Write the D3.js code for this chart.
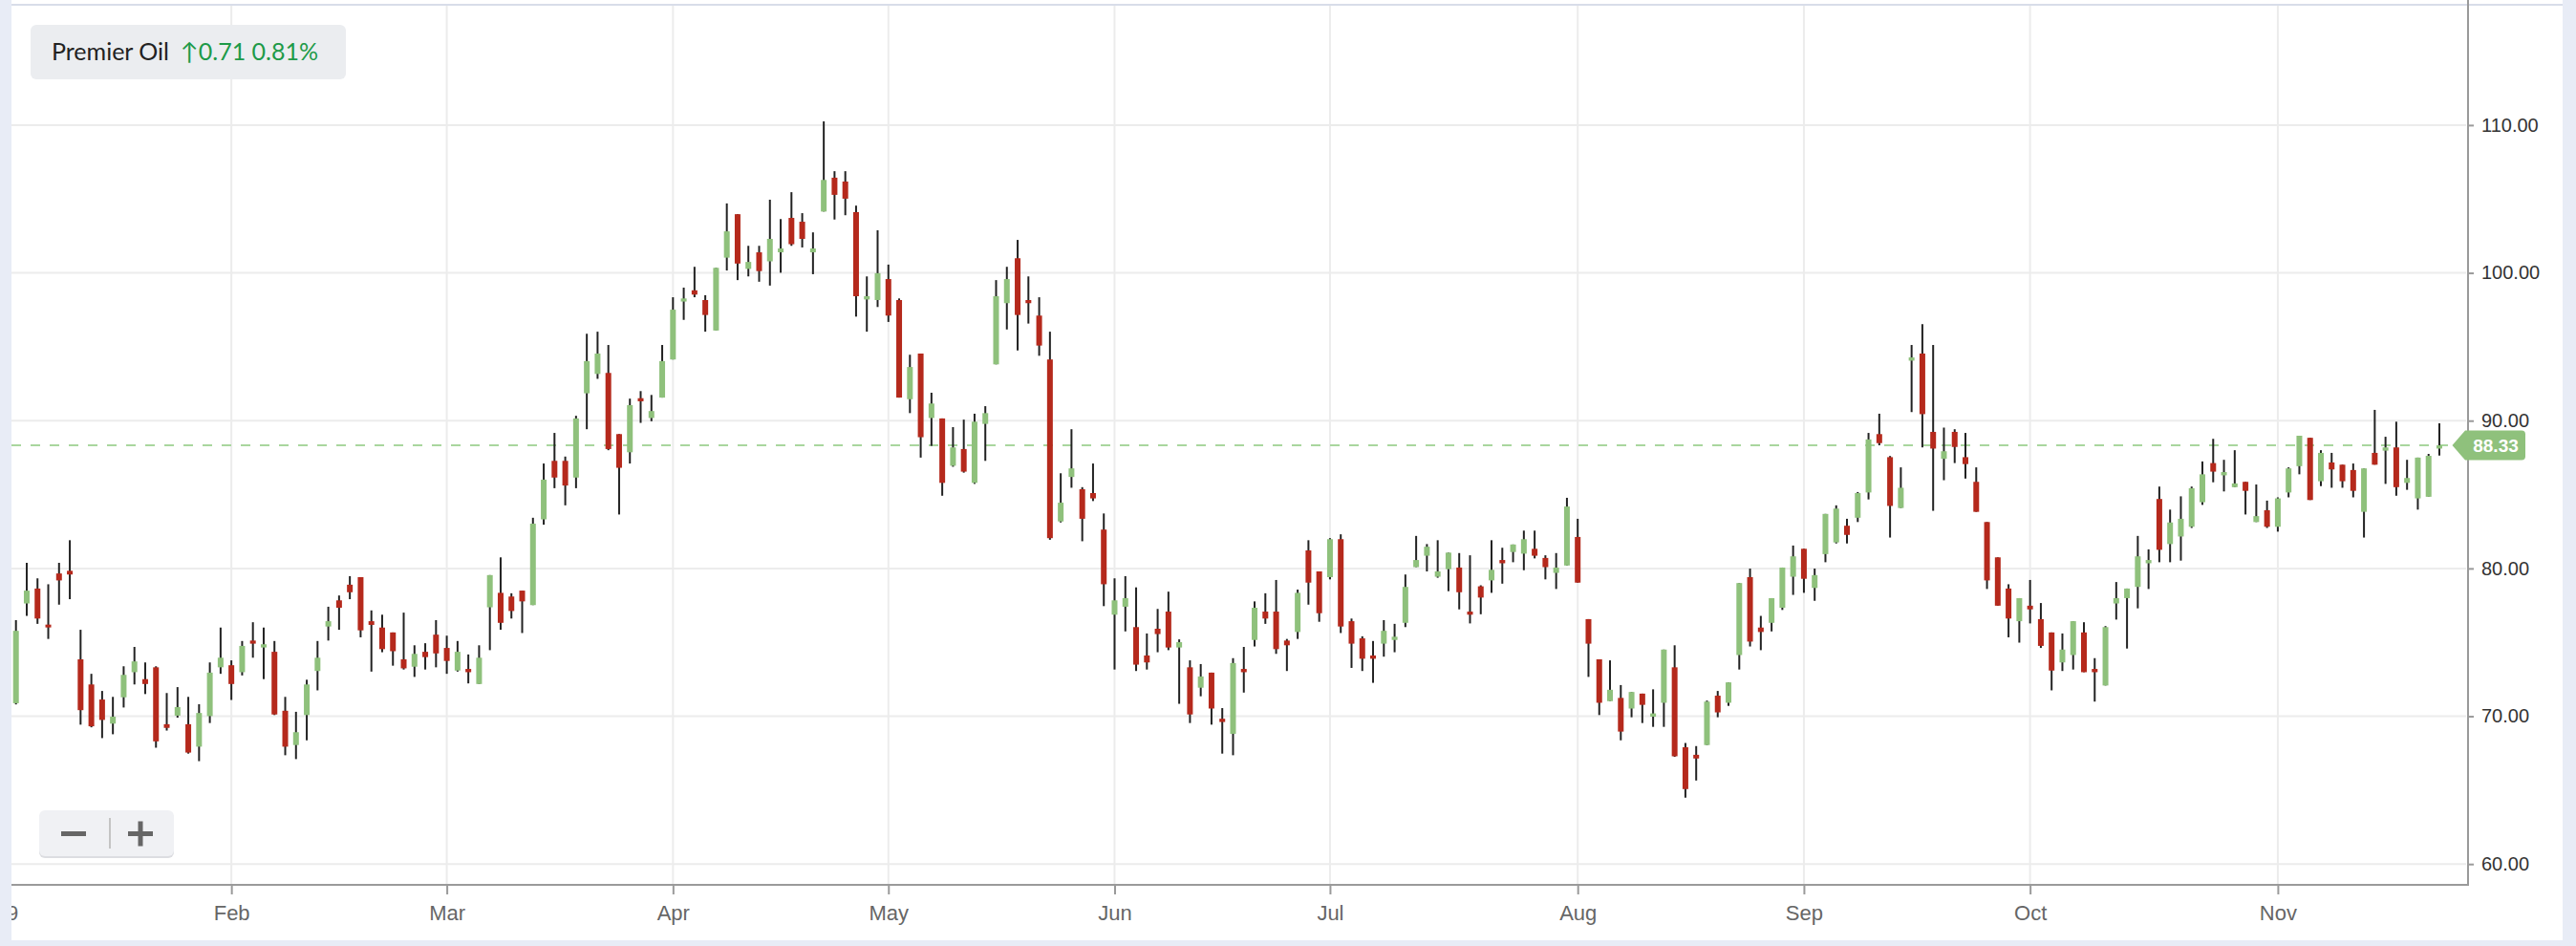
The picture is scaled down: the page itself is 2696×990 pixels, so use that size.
<!DOCTYPE html>
<html>
<head>
<meta charset="utf-8">
<script src="https://cdnjs.cloudflare.com/ajax/libs/d3/7.8.5/d3.min.js"></script>
<style>
  body { margin: 0; background: #fff; }
  #candle-chart { width: 2696px; height: 990px; }
</style>
</head>
<body>
<div id="candle-chart"></div>
<script>

// header values
var stockName = "Premier Oil";
var priceChange = "0.71";
var pctChange = "0.81%";
var lastPrice = 88.33;

// x axis: label + index of the first trading day of each month
var monthLabels = ["2019", "Feb", "Mar", "Apr", "May", "Jun", "Jul", "Aug", "Sep", "Oct", "Nov"];
var monthStartIndex = [-2, 20, 40, 61, 81, 102, 122, 145, 166, 187, 210];
var yTickValues = [60, 70, 80, 90, 100, 110];

// daily OHLC (Jan -> Nov)
var openPrices = [
  70.88, 77.63, 78.64, 76.2, 79.66, 79.84, 73.85, 72.15, 71.13, 69.5,
  71.28, 72.98, 72.51, 73.31, 69.46, 70.04, 69.46, 67.94, 70.01, 73.31,
  73.45, 72.98, 75.12, 74.65, 74.36, 70.37, 68.05, 70.08, 73.06, 76.07,
  77.84, 78.9, 79.41, 76.43, 76.0, 75.67, 73.85, 73.35, 74.36, 75.52,
  74.62, 73.09, 73.2, 72.18, 77.37, 78.35, 78.1, 78.5, 77.52, 83.32,
  87.28, 87.28, 86.15, 91.85, 93.16, 93.23, 89.09, 87.86, 91.52, 90.18,
  91.56, 94.14, 98.06, 98.82, 98.16, 96.1, 101.03, 103.97, 100.27, 101.39,
  100.78, 101.39, 103.72, 103.46, 101.39, 104.15, 106.44, 106.18, 104.11, 98.2,
  98.16, 99.58, 98.16, 91.45, 94.54, 90.18, 90.15, 86.95, 88.08, 85.79,
  89.78, 93.81, 97.95, 100.99, 98.16, 97.11, 94.14, 83.18, 86.19, 85.36,
  85.1, 82.63, 76.87, 77.41, 76.03, 74.11, 75.92, 77.08, 74.65, 73.31,
  71.93, 72.95, 69.83, 68.81, 73.2, 75.16, 77.08, 77.08, 75.12, 75.7,
  81.22, 79.8, 79.41, 81.98, 76.43, 75.27, 74.11, 74.91, 75.16, 76.32,
  80.09, 80.86, 79.44, 79.95, 80.06, 77.08, 78.79, 79.19, 80.57, 81.11,
  81.0, 81.33, 80.71, 79.7, 80.2, 82.13, 76.57, 73.85, 71.02, 71.24,
  70.52, 71.53, 69.97, 70.91, 73.31, 67.9, 67.39, 68.05, 71.39, 70.91,
  74.14, 79.41, 76.0, 76.32, 77.34, 79.44, 81.33, 78.68, 80.97, 81.76,
  82.89, 83.43, 85.14, 89.09, 87.53, 84.09, 94.06, 94.54, 89.24, 87.42,
  89.24, 87.53, 85.86, 83.14, 80.75, 78.64, 76.43, 77.48, 76.57, 75.67,
  73.64, 74.14, 75.67, 73.2, 72.08, 77.63, 77.99, 78.75, 80.35, 84.7,
  81.65, 82.16, 82.82, 84.48, 87.13, 86.3, 85.5, 85.86, 83.14, 83.94,
  82.82, 85.14, 86.92, 88.84, 85.9, 87.17, 87.02, 86.66, 83.83, 87.82,
  87.97, 88.19, 85.79, 84.74, 84.85, 88.11
];
var highPrices = [
  76.5, 80.38, 79.33, 78.93, 80.38, 81.91, 75.85, 72.87, 71.71, 71.31,
  73.38, 74.69, 73.64, 73.38, 71.57, 71.97, 71.31, 70.81, 73.64, 76.0,
  73.78, 75.09, 76.36, 76.0, 75.09, 71.31, 70.3, 72.47, 75.09, 77.41,
  78.17, 79.48, 79.41, 77.16, 76.87, 75.67, 77.01, 74.8, 74.94, 76.5,
  75.45, 75.09, 74.18, 74.8, 79.55, 80.75, 78.32, 78.5, 83.43, 87.1,
  89.17, 87.57, 90.33, 95.88, 96.02, 95.12, 89.09, 91.49, 92.0, 91.74,
  95.12, 98.35, 99.0, 100.41, 98.49, 100.34, 104.7, 103.97, 101.83, 101.83,
  104.95, 103.64, 105.46, 104.04, 102.74, 110.25, 106.88, 106.88, 104.55, 99.76,
  102.88, 100.56, 98.27, 94.46, 94.54, 91.89, 90.15, 89.56, 90.07, 90.47,
  90.98, 99.51, 100.41, 102.23, 99.76, 98.35, 96.02, 86.44, 89.42, 85.5,
  87.1, 83.72, 79.33, 79.48, 78.72, 75.6, 77.26, 78.43, 75.2, 73.78,
  73.53, 72.95, 70.55, 73.93, 74.69, 77.77, 78.32, 79.22, 75.23, 78.57,
  81.91, 79.8, 82.05, 82.31, 76.61, 75.41, 75.09, 76.5, 76.25, 79.59,
  82.2, 81.65, 81.91, 81.07, 81.04, 80.89, 78.86, 81.91, 81.4, 81.62,
  82.56, 82.56, 80.89, 81.04, 84.78, 83.36, 76.57, 73.85, 73.78, 72.11,
  71.64, 71.53, 71.82, 74.51, 74.8, 68.19, 67.98, 71.06, 71.71, 72.29,
  79.01, 79.99, 76.79, 77.99, 80.06, 81.55, 81.33, 79.99, 83.69, 84.27,
  83.36, 85.17, 89.17, 90.47, 87.61, 86.84, 95.12, 96.53, 95.12, 89.53,
  89.42, 89.17, 86.84, 83.14, 80.75, 78.93, 77.99, 79.22, 77.66, 75.67,
  75.6, 76.43, 76.36, 73.93, 76.1, 79.08, 78.64, 82.2, 81.29, 85.54,
  83.98, 84.88, 85.54, 87.24, 88.77, 87.35, 88.0, 85.86, 85.68, 84.59,
  84.81, 86.84, 88.98, 88.84, 88.0, 87.82, 87.02, 87.1, 86.77, 90.73,
  88.91, 89.93, 87.35, 87.5, 87.75, 89.82
];
var lowPrices = [
  70.8, 76.79, 76.25, 75.23, 77.55, 77.92, 69.43, 69.25, 68.52, 68.78,
  70.59, 72.15, 71.5, 67.87, 69.03, 69.9, 67.47, 66.96, 69.54, 72.87,
  71.1, 72.76, 73.96, 72.51, 70.08, 67.36, 67.1, 68.37, 71.75, 75.12,
  75.85, 77.92, 75.34, 73.02, 74.33, 73.42, 73.16, 72.66, 73.16, 73.31,
  72.87, 73.02, 72.22, 72.18, 74.47, 75.85, 76.61, 75.63, 77.52, 82.96,
  85.43, 84.27, 85.43, 89.42, 92.83, 88.0, 83.65, 87.1, 89.85, 89.96,
  91.56, 94.14, 96.82, 98.35, 96.02, 96.1, 100.16, 99.51, 99.76, 99.4,
  99.14, 100.01, 101.83, 101.72, 99.91, 104.15, 103.61, 103.9, 97.04, 96.02,
  97.69, 96.68, 91.56, 90.51, 87.5, 88.29, 84.92, 86.88, 86.48, 85.72,
  87.28, 93.81, 96.17, 94.75, 96.57, 94.39, 81.94, 83.11, 85.46, 81.84,
  84.56, 77.45, 73.16, 75.74, 73.06, 73.16, 74.33, 74.47, 70.84, 69.54,
  71.35, 69.43, 67.47, 67.36, 71.6, 74.72, 76.25, 74.22, 73.06, 75.23,
  77.55, 76.39, 79.26, 75.63, 73.27, 73.06, 72.26, 74.03, 74.33, 76.03,
  80.09, 79.8, 79.37, 78.46, 77.23, 76.28, 76.9, 78.35, 78.97, 80.42,
  79.88, 80.68, 79.26, 78.61, 80.2, 79.04, 72.66, 70.08, 71.02, 68.37,
  69.93, 69.54, 69.28, 69.28, 67.25, 64.49, 65.65, 68.05, 69.93, 70.7,
  73.16, 74.72, 74.47, 75.74, 77.19, 78.21, 78.35, 77.81, 80.42, 81.69,
  81.69, 83.14, 84.67, 88.33, 82.09, 84.09, 90.58, 88.19, 83.9, 85.97,
  87.13, 86.08, 83.83, 78.61, 77.48, 75.34, 74.98, 76.28, 74.62, 71.75,
  73.06, 73.16, 72.98, 70.99, 72.08, 76.54, 74.58, 77.3, 78.61, 80.42,
  80.42, 80.53, 82.74, 84.3, 85.83, 85.21, 85.5, 83.65, 83.14, 82.74,
  82.49, 84.81, 86.37, 84.63, 85.57, 85.46, 85.46, 84.81, 82.09, 87.02,
  85.72, 84.92, 85.32, 83.98, 84.85, 87.64
];
var closePrices = [
  75.78, 78.5, 76.61, 76.1, 79.19, 79.59, 70.41, 69.32, 69.75, 69.97,
  72.8, 73.71, 72.18, 68.3, 69.21, 70.62, 67.54, 70.22, 72.95, 73.96,
  72.18, 74.76, 74.91, 74.87, 70.12, 67.94, 68.92, 72.15, 73.96, 76.43,
  77.34, 78.39, 75.81, 76.18, 74.54, 74.4, 73.24, 74.22, 74.0, 74.25,
  73.74, 74.36, 72.98, 73.96, 79.55, 76.32, 77.12, 77.77, 83.03, 86.01,
  86.15, 85.61, 90.15, 94.03, 94.54, 88.08, 86.81, 91.05, 91.31, 90.65,
  94.03, 97.51, 98.27, 98.53, 97.15, 100.34, 102.81, 100.63, 100.74, 100.12,
  102.3, 101.65, 101.94, 102.3, 101.65, 106.29, 105.28, 105.02, 98.42, 98.42,
  99.98, 97.11, 91.56, 93.63, 88.88, 91.16, 85.79, 88.19, 86.55, 89.93,
  90.51, 98.42, 99.58, 97.15, 97.95, 95.08, 82.05, 84.45, 86.77, 83.36,
  84.74, 78.93, 77.84, 77.99, 73.49, 73.64, 75.56, 74.65, 75.01, 70.12,
  72.69, 70.52, 69.61, 73.6, 72.98, 77.34, 76.61, 74.54, 74.8, 78.35,
  79.04, 76.97, 81.98, 76.07, 74.91, 73.89, 73.89, 75.78, 75.38, 78.75,
  80.57, 81.47, 79.8, 81.07, 78.39, 76.87, 78.03, 79.91, 80.35, 81.62,
  81.98, 80.86, 80.09, 80.06, 84.19, 79.04, 74.91, 70.91, 71.79, 68.96,
  71.64, 70.77, 70.19, 74.51, 67.29, 65.07, 67.14, 70.99, 70.26, 72.29,
  79.01, 75.05, 75.7, 77.99, 80.06, 80.82, 79.3, 79.55, 83.69, 84.05,
  82.27, 85.1, 88.73, 88.48, 84.23, 85.46, 94.28, 90.44, 88.11, 87.93,
  88.22, 87.06, 83.83, 79.19, 77.48, 76.61, 77.99, 77.23, 74.76, 73.09,
  74.51, 76.43, 72.98, 72.98, 76.03, 77.99, 78.64, 80.82, 80.57, 81.26,
  83.11, 83.36, 85.43, 86.37, 86.55, 86.52, 85.75, 85.25, 83.54, 82.82,
  84.74, 86.77, 88.98, 84.63, 87.82, 86.7, 85.9, 85.25, 86.77, 87.02,
  88.19, 85.5, 86.12, 87.5, 87.62, 88.33
];


/*
 *  CandleChart - Object constructor function
 */

CandleChart = function(_parentId) {
    var self = this;
    self.parentId = _parentId;
    self.initVis();
}


/*
 *  Initialize svg, scales and frame
 */

CandleChart.prototype.initVis = function() {
    var self = this;

    self.width = 2696;
    self.height = 990;
    self.plot = {left: 12, right: 2583, top: 6, bottom: 926};

    self.upColor = "#8fc17c";
    self.downColor = "#b5291c";
    self.gridColor = "#ececec";
    self.axisColor = "#9a9a9a";

    self.svg = d3.select("#" + self.parentId).append("svg")
        .attr("width", self.width)
        .attr("height", self.height);

    // frame around the widget
    self.svg.append("rect")
        .attr("width", self.width)
        .attr("height", self.height)
        .attr("fill", "#fff");
    self.svg.append("rect")
        .attr("x", 0).attr("y", 0)
        .attr("width", 12).attr("height", self.height)
        .attr("fill", "#e8ecf6");
    self.svg.append("rect")
        .attr("x", 2682).attr("y", 0)
        .attr("width", 14).attr("height", self.height)
        .attr("fill", "#e8ecf6");
    self.svg.append("rect")
        .attr("x", 12).attr("y", 4)
        .attr("width", 2670).attr("height", 2)
        .attr("fill", "#d8dde9");
    self.svg.append("rect")
        .attr("x", 12).attr("y", 984)
        .attr("width", 2670).attr("height", 6)
        .attr("fill", "#e8ecf6");

    // x is trading day index, y is price
    self.x = d3.scaleLinear()
        .domain([0, closePrices.length - 1])
        .range([16.7, 2553]);
    self.y = d3.scaleLinear()
        .domain([60, 110])
        .range([904.2, 130.9]);

    var defs = self.svg.append("defs");
    defs.append("clipPath").attr("id", "plot-clip")
        .append("rect")
        .attr("x", self.plot.left).attr("y", 0)
        .attr("width", self.plot.right - self.plot.left)
        .attr("height", self.height);
    defs.append("clipPath").attr("id", "xaxis-clip")
        .append("rect")
        .attr("x", self.plot.left).attr("y", 0)
        .attr("width", self.width).attr("height", self.height);

    self.gridGroup = self.svg.append("g").attr("class", "grid");
    self.candleGroup = self.svg.append("g").attr("class", "candles")
        .attr("clip-path", "url(#plot-clip)");
    self.axisGroup = self.svg.append("g").attr("class", "axes");
    self.overlayGroup = self.svg.append("g").attr("class", "overlay");

    self.wrangleData();
}


/*
 *  Data wrangling
 */

CandleChart.prototype.wrangleData = function() {
    var self = this;

    self.displayData = closePrices.map(function(c, i) {
        return {
            index: i,
            open: openPrices[i],
            high: highPrices[i],
            low: lowPrices[i],
            close: c
        };
    });

    self.months = monthLabels.map(function(m, i) {
        return {label: m, index: monthStartIndex[i]};
    });

    self.updateVis();
}


/*
 *  The drawing function
 */

CandleChart.prototype.updateVis = function() {
    var self = this;
    var p = self.plot;

    // horizontal grid
    self.gridGroup.selectAll(".hgrid")
        .data(yTickValues)
        .enter().append("line")
        .attr("class", "hgrid")
        .attr("x1", p.left).attr("x2", p.right - 2)
        .attr("y1", function(d) { return self.y(d); })
        .attr("y2", function(d) { return self.y(d); })
        .attr("stroke", self.gridColor)
        .attr("stroke-width", 2);

    // vertical month grid
    self.gridGroup.selectAll(".vgrid")
        .data(self.months.filter(function(d) { return d.index >= 0; }))
        .enter().append("line")
        .attr("class", "vgrid")
        .attr("x1", function(d) { return self.x(d.index); })
        .attr("x2", function(d) { return self.x(d.index); })
        .attr("y1", p.top).attr("y2", p.bottom)
        .attr("stroke", self.gridColor)
        .attr("stroke-width", 2);

    // last price dashed line
    self.gridGroup.append("line")
        .attr("x1", p.left).attr("x2", 2566)
        .attr("y1", self.y(lastPrice)).attr("y2", self.y(lastPrice))
        .attr("stroke", "#a9d69e")
        .attr("stroke-width", 2)
        .attr("stroke-dasharray", "10,10");

    // candles
    var candle = self.candleGroup.selectAll(".candle")
        .data(self.displayData)
        .enter().append("g")
        .attr("class", "candle");

    candle.append("line")
        .attr("x1", function(d) { return self.x(d.index); })
        .attr("x2", function(d) { return self.x(d.index); })
        .attr("y1", function(d) { return self.y(d.high); })
        .attr("y2", function(d) { return self.y(d.low); })
        .attr("stroke", "#222")
        .attr("stroke-width", 2);

    candle.append("rect")
        .attr("x", function(d) { return self.x(d.index) - 3; })
        .attr("width", 6)
        .attr("y", function(d) { return self.y(Math.max(d.open, d.close)); })
        .attr("height", function(d) {
            return Math.max(3, Math.abs(self.y(d.open) - self.y(d.close)));
        })
        .attr("fill", function(d) {
            return d.close >= d.open ? self.upColor : self.downColor;
        });

    // y axis on the right
    var yAxis = d3.axisRight(self.y)
        .tickValues(yTickValues)
        .tickFormat(d3.format(".2f"))
        .tickSize(6)
        .tickPadding(8);

    var yg = self.axisGroup.append("g")
        .attr("class", "y axis")
        .attr("transform", "translate(" + p.right + ",0)")
        .call(yAxis);
    yg.select(".domain").remove();
    yg.selectAll(".tick line").attr("stroke", self.axisColor).attr("stroke-width", 2);
    yg.selectAll(".tick text")
        .attr("fill", "#333")
        .style("font-family", "'Liberation Sans', Arial, sans-serif")
        .style("font-size", "20px");

    self.axisGroup.append("line")
        .attr("x1", p.right).attr("x2", p.right)
        .attr("y1", 0).attr("y2", p.bottom + 1)
        .attr("stroke", self.axisColor)
        .attr("stroke-width", 2);

    // x axis (months)
    var labelOf = {};
    self.months.forEach(function(d) { labelOf[d.index] = d.label; });

    var xAxis = d3.axisBottom(self.x)
        .tickValues(monthStartIndex)
        .tickFormat(function(d) { return labelOf[d]; })
        .tickSize(10)
        .tickPadding(11);

    var xg = self.axisGroup.append("g")
        .attr("class", "x axis")
        .attr("clip-path", "url(#xaxis-clip)")
        .attr("transform", "translate(0," + p.bottom + ")")
        .call(xAxis);
    xg.select(".domain").remove();
    xg.selectAll(".tick line").attr("stroke", self.axisColor).attr("stroke-width", 2);
    xg.selectAll(".tick text")
        .attr("fill", "#666")
        .style("font-family", "'Liberation Sans', Arial, sans-serif")
        .style("font-size", "22px");

    self.axisGroup.append("line")
        .attr("x1", p.left).attr("x2", p.right + 1)
        .attr("y1", p.bottom).attr("y2", p.bottom)
        .attr("stroke", self.axisColor)
        .attr("stroke-width", 2);

    // last price tag
    var ty = self.y(lastPrice);
    var tag = self.overlayGroup.append("g").attr("class", "price-tag");
    tag.append("path")
        .attr("d", "M2566.5," + ty +
            " L2580," + (ty - 15.5) +
            " H2639 Q2643," + (ty - 15.5) + " 2643," + (ty - 11.5) +
            " V" + (ty + 11.5) +
            " Q2643," + (ty + 15.5) + " 2639," + (ty + 15.5) +
            " H2580 Z")
        .attr("fill", self.upColor);
    tag.append("text")
        .attr("x", 2612).attr("y", ty)
        .attr("dy", "0.36em")
        .attr("text-anchor", "middle")
        .attr("fill", "#fff")
        .style("font-family", "'Liberation Sans', Arial, sans-serif")
        .style("font-weight", "bold")
        .style("font-size", "19px")
        .text(lastPrice.toFixed(2));

    // legend box
    var legend = self.overlayGroup.append("g").attr("class", "legend");
    legend.append("rect")
        .attr("x", 32).attr("y", 26)
        .attr("width", 330).attr("height", 57)
        .attr("rx", 6)
        .attr("fill", "#ebedf0");
    var lt = legend.append("text")
        .attr("x", 54).attr("y", 63)
        .style("font-family", "Lato, 'Open Sans', sans-serif")
        .style("font-size", "25px");
    lt.append("tspan").attr("fill", "#222").text(stockName);
    lt.append("tspan").attr("fill", "#1d9a48").attr("dx", 12)
        .text("\u2191" + priceChange + " " + pctChange);

    // zoom buttons
    var zoom = self.overlayGroup.append("g").attr("class", "zoom-buttons");
    zoom.append("rect")
        .attr("x", 41).attr("y", 850)
        .attr("width", 141).attr("height", 48)
        .attr("rx", 6)
        .attr("fill", "#dcdde1");
    zoom.append("rect")
        .attr("x", 41).attr("y", 848)
        .attr("width", 141).attr("height", 48)
        .attr("rx", 6)
        .attr("fill", "#f0f1f4");
    zoom.append("rect")
        .attr("x", 64).attr("y", 870)
        .attr("width", 26).attr("height", 5)
        .attr("fill", "#666");
    zoom.append("rect")
        .attr("x", 134).attr("y", 870)
        .attr("width", 26).attr("height", 5)
        .attr("fill", "#666");
    zoom.append("rect")
        .attr("x", 144.5).attr("y", 859.5)
        .attr("width", 5).attr("height", 26)
        .attr("fill", "#666");
    zoom.append("line")
        .attr("x1", 115).attr("x2", 115)
        .attr("y1", 856).attr("y2", 888)
        .attr("stroke", "#c4c4c4")
        .attr("stroke-width", 2);
}

var chart = new CandleChart("candle-chart");

</script>
</body>
</html>
